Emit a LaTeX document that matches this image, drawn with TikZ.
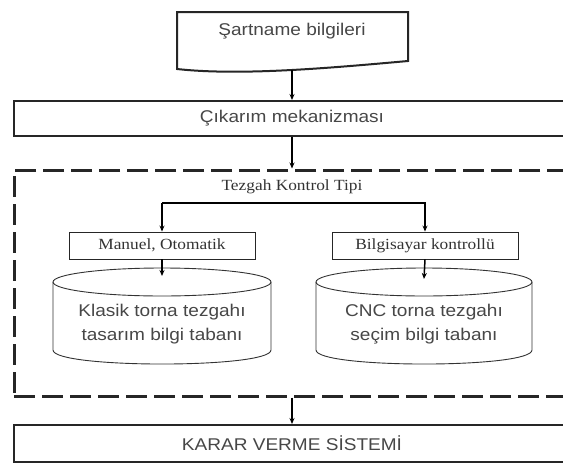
\documentclass[tikz,border=0pt]{standalone}
\usepackage{fontspec}
\setmainfont{Liberation Serif}[FakeStretch=1.12]
\setsansfont{Liberation Sans}[FakeStretch=1.12]
\usetikzlibrary{arrows.meta}
\newcommand\mycyl[2]{%
  \draw[dbline] (#1-#2,282) -- (#1-#2,350) .. controls (#1-#2,368.7) and (#1+#2,368.7) .. (#1+#2,350) -- (#1+#2,282);
  \draw[dbline] (#1,282) ellipse [x radius=#2pt, y radius=14pt];
}
\begin{document}
\begin{tikzpicture}[x=1pt,y=-1pt,
  sanst/.style={font=\sffamily\fontsize{17}{24}\selectfont, text=black!72, align=center},
  serift/.style={font=\rmfamily\fontsize{15.5}{18}\selectfont, text=black!80},
  bigbox/.style={draw=black!85, line width=2pt, minimum width=556pt, inner sep=0pt, sanst},
  smallbox/.style={draw=black!85, line width=0.9pt, minimum width=186pt, minimum height=27pt, inner sep=0pt, serift},
  grpbox/.style={draw=black!85, line width=3pt, dash pattern=on 21pt off 7pt, minimum width=556pt, minimum height=226pt, inner sep=0pt},
  arr/.style={draw=black, line width=1.5pt, -{Stealth[length=6pt,width=5pt]}},
  dbline/.style={draw=black!80, line width=0.9pt}
]
\useasboundingbox (0,0) rectangle (563,464);
\clip (0,0) rectangle (563,464);
\fill[white] (0,0) rectangle (563,464);

% document shape
\draw[line width=2pt, draw=black!85] (177,12) -- (408,12) -- (408,61) .. controls (330,68) and (240,76) .. (177,69) -- cycle;
\node[sanst] (doc) at (292,31) {Şartname bilgileri};
\coordinate (docb) at (292,70);

\node[bigbox, minimum height=35pt] (cik) at (292,118.5) {Çıkarım mekanizması};

\node[grpbox] (grp) at (292,283) {};
\node[serift] (tez) at (292,187) {Tezgah Kontrol Tipi};

\coordinate (bl) at (162,203);
\coordinate (br) at (425,203);
\node[smallbox] (m1) at (162,245.5) {Manuel, Otomatik};
\node[smallbox] (m2) at (425,245.5) {Bilgisayar kontrollü};

\mycyl{162}{109}
\mycyl{424}{108}
\coordinate (c1) at (162,276);
\coordinate (c2) at (424,279);
\node[sanst] (db1) at (162,324) {Klasik torna tezgahı\\tasarım bilgi tabanı};
\node[sanst] (db2) at (424,324) {CNC torna tezgahı\\seçim bilgi tabanı};

\node[bigbox, minimum height=37pt] (kar) at (292,443.5) {KARAR VERME SİSTEMİ};

\draw[arr] (docb) -- (cik.north);
\draw[arr] (cik.south) -- (grp.north);
\draw[arr] (bl) -- (m1.north);
\draw[arr] (bl) -- (br) -- (m2.north);
\draw[arr] (m1.south) -- (c1);
\draw[arr] (m2.south) -- (c2);
\draw[arr] (grp.south) -- (kar.north);
\end{tikzpicture}
\end{document}
